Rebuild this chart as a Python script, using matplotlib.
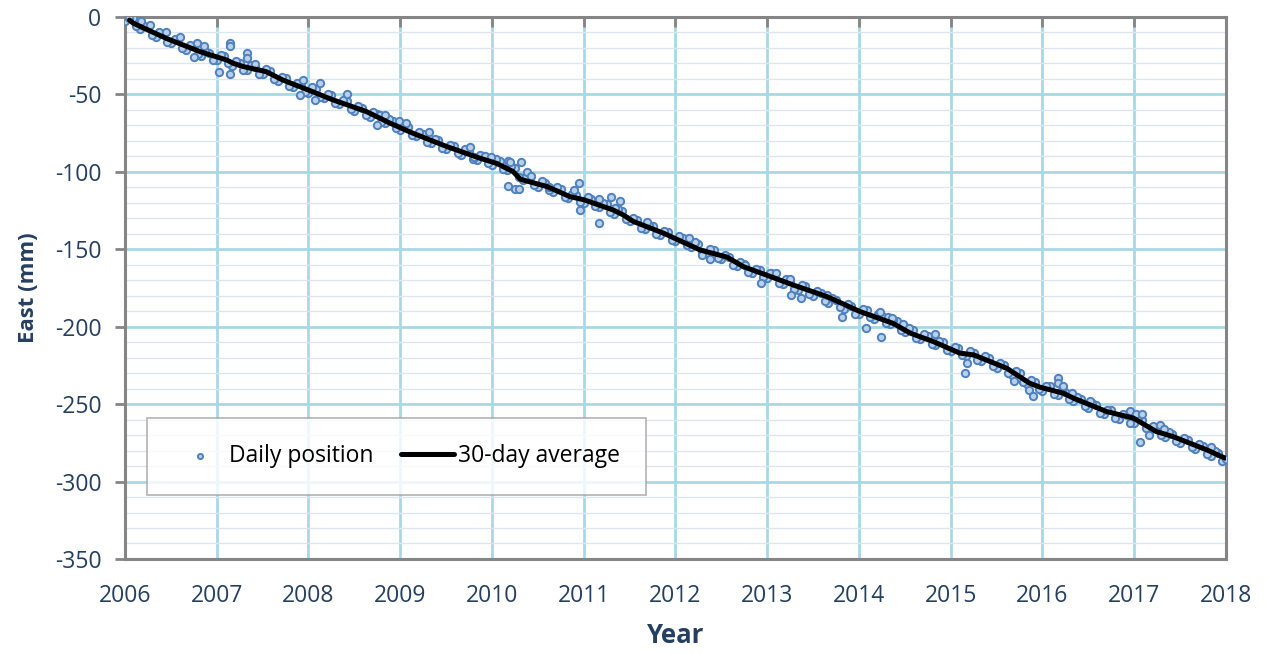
import numpy as np
import matplotlib
matplotlib.use("Agg")
import matplotlib.pyplot as plt
from matplotlib.ticker import MultipleLocator

plt.rcParams['font.family'] = ['Open Sans', 'DejaVu Sans']
plt.rcParams['axes.unicode_minus'] = False

# 30-day average (decimal year, east offset in mm)
avg_year = [2006.05, 2006.09, 2006.45, 2006.82, 2007.11, 2007.18, 2007.29, 2007.54,
            2007.72, 2007.98, 2008.27, 2008.63, 2008.89, 2009.14, 2009.51, 2009.87,
            2010.05, 2010.23, 2010.31, 2010.60, 2010.85, 2011.00, 2011.32, 2011.43,
            2011.54, 2011.87, 2012.27, 2012.56, 2012.74, 2012.99, 2013.28, 2013.65,
            2014.01, 2014.37, 2014.56, 2014.81, 2015.10, 2015.25, 2015.61, 2015.86,
            2015.97, 2016.23, 2016.34, 2016.70, 2016.99, 2017.24, 2017.42, 2017.79,
            2017.99]
avg_east = [-2.0, -4.0, -13.8, -22.4, -27.8, -29.9, -32.0, -35.3,
            -40.7, -46.7, -53.6, -61.0, -68.6, -75.1, -83.7, -91.2,
            -94.5, -99.8, -104.8, -109.5, -116.0, -118.0, -124.6, -127.8,
            -132.0, -139.6, -150.5, -155.0, -161.2, -166.6, -173.0, -180.5,
            -190.2, -197.8, -204.2, -209.6, -217.1, -218.2, -226.8, -236.5,
            -239.0, -243.0, -246.2, -254.8, -259.0, -267.7, -270.9, -279.5,
            -284.9]

# daily positions, mid-month readings (mm)
mid_2006 = [-0.5, -5.5, -5.5, -11.5, -10, -16, -14, -20, -18, -24, -22, -27.5]
mid_2007 = [-24.5, -30, -28.5, -34, -31, -36.5, -33.5, -40, -38.5, -44.5, -42.5, -48.5]
mid_2008 = [-45.5, -51.5, -49.5, -55.5, -53.5, -59.5, -57.5, -63.5, -61.5, -67.5, -66, -72]
mid_2009 = [-70, -76, -74.5, -80.5, -78.5, -84.5, -82.5, -88, -85.5, -91.5, -89, -94.5]
mid_2010 = [-92, -98, -96, -103.5, -103, -108.5, -106, -112, -110, -116, -114, -119.5]
mid_2011 = [-116.5, -122, -120, -126, -124, -130.5, -130, -136, -134, -140, -138, -144]
mid_2012 = [-141.5, -147.5, -145.5, -151.5, -149.5, -155.5, -153.5, -160, -158.5, -164.5, -162.5, -168]
mid_2013 = [-165.5, -171.5, -169.5, -175.5, -173, -179, -177, -183.5, -181.5, -187.5, -185.5, -191.5]
mid_2014 = [-188.5, -194, -192, -197.5, -195.5, -202, -201, -207, -205, -211, -209, -215]
mid_2015 = [-213, -218.5, -216, -221.5, -219, -225.5, -223.5, -230, -228.5, -235.5, -234.5, -240.5]
mid_2016 = [-238, -243.5, -241, -247, -245.5, -251.5, -249.5, -255.5, -253.5, -259, -256.5, -262]
mid_2017 = [-259, -265.5, -264, -270, -268, -274, -272, -278, -276, -282.5, -280.5, -286.5]

# daily positions, start-of-month readings (mm)
start_2006 = [-2.5, -0.5, -7.5, -6.5, -13, -11, -17, -15, -21, -19, -25, -23]
start_2007 = [-28, -25.5, -31.5, -29.5, -34.5, -32, -37, -35, -41.5, -39.5, -45.5, -43.5]
start_2008 = [-49, -46.5, -52.5, -50.5, -56.5, -54.5, -60.5, -58.5, -64.5, -62.5, -68.5, -67]
start_2009 = [-73, -71, -77, -75.5, -81.5, -79.5, -85.5, -83.5, -89, -86.5, -92.5, -90]
start_2010 = [-95.5, -93, -99, -97.5, -105, -104, -109.5, -107, -113, -111, -117, -115]
start_2011 = [-120, -117.5, -123, -121, -127, -125, -132, -131, -137, -135, -141, -139]
start_2012 = [-144.5, -142.5, -148.5, -146.5, -152.5, -150.5, -156.5, -155, -161, -159.5, -165.5, -163.5]
start_2013 = [-168.8, -166.5, -172.5, -170.5, -176.5, -174, -180, -178, -184.5, -182.5, -188.5, -186.5]
start_2014 = [-192, -189.5, -195, -193, -198.5, -196.5, -203.5, -202, -208, -206, -212, -210]
start_2015 = [-216, -214, -219, -217, -222, -220, -226.5, -224.5, -231, -230, -237, -235.5]
start_2016 = [-241.5, -238.5, -244, -242, -248, -246.5, -252.5, -250.5, -256.5, -254, -259.5, -257]
start_2017 = [-262, -260, -266.5, -265, -271, -269, -275, -273, -279, -277, -283.5, -281.5]

# scattered days away from the average
extra_year = [2006.04, 2006.18, 2006.27, 2006.45, 2006.60, 2006.75, 2006.79, 2006.86,
              2007.02, 2007.15, 2007.15, 2007.15, 2007.33, 2007.33, 2007.42, 2007.91,
              2007.94, 2008.07, 2008.13, 2008.42, 2008.78, 2008.83, 2008.75, 2008.99,
              2009.06, 2009.31, 2009.76, 2009.80, 2009.92, 2009.99, 2010.18, 2010.20,
              2010.32, 2010.18, 2010.25, 2010.30, 2010.38, 2010.43, 2010.62, 2010.95,
              2010.89, 2010.96, 2011.17, 2011.17, 2011.30, 2011.40, 2011.34, 2011.69,
              2012.15, 2012.29, 2012.38, 2012.76, 2012.93, 2013.03, 2013.10, 2013.25,
              2013.26, 2013.37, 2013.65, 2013.81, 2014.08, 2014.23, 2014.24, 2014.32,
              2014.36, 2014.48, 2014.83, 2015.16, 2015.18, 2015.69, 2015.85, 2015.90,
              2016.17, 2016.17, 2016.22, 2016.32, 2016.52, 2016.95, 2017.02, 2017.09,
              2017.06, 2017.16, 2017.28, 2017.32, 2017.84, 2018.00]
extra_east = [0.0, -2.4, -5.2, -9.5, -12.7, -25.6, -17.0, -18.7,
              -35.3, -16.6, -18.7, -36.8, -23.4, -26.7, -30.5, -50.4,
              -40.7, -53.6, -42.4, -49.9, -63.3, -63.3, -69.7, -66.9,
              -68.6, -74.0, -84.1, -90.2, -89.7, -90.2, -92.8, -93.4,
              -93.8, -109.1, -111.2, -111.2, -99.9, -102.6, -109.5, -107.0,
              -111.7, -124.6, -117.7, -133.2, -116.0, -118.6, -123.5, -132.1,
              -142.9, -153.6, -156.5, -160.1, -171.9, -165.0, -165.0, -169.3,
              -179.5, -181.2, -179.5, -193.5, -201.0, -190.2, -206.8, -193.5,
              -194.5, -198.4, -204.9, -230.0, -223.6, -234.8, -240.8, -244.7,
              -233.3, -236.1, -238.2, -242.5, -247.7, -254.4, -256.3, -256.3,
              -274.2, -269.9, -263.8, -266.2, -277.8, -285.5]

mid = (mid_2006 + mid_2007 + mid_2008 + mid_2009 + mid_2010 + mid_2011 +
       mid_2012 + mid_2013 + mid_2014 + mid_2015 + mid_2016 + mid_2017)
start = (start_2006 + start_2007 + start_2008 + start_2009 + start_2010 + start_2011 +
         start_2012 + start_2013 + start_2014 + start_2015 + start_2016 + start_2017)
mid_x = 2006 + (np.arange(len(mid)) + 0.5) / 12
start_x = 2006 + np.arange(len(start)) / 12
day_x = np.concatenate([start_x, mid_x, extra_year])
day_y = np.concatenate([start, mid, extra_east])

navy = '#243F60'
grey = '#858585'

fig = plt.figure(figsize=(12.66, 6.54), dpi=100)
ax = fig.add_axes([0.0987, 0.1453, 0.8697, 0.8287])

ax.scatter(day_x, day_y, s=28, facecolor='#B9D0EA', edgecolor='#4F81BD',
           linewidth=1.4, zorder=3, label='Daily position')
ax.plot(avg_year, avg_east, color='black', lw=3.6, zorder=4,
        solid_capstyle='round', label='30-day average')

ax.set_xlim(2006, 2018)
ax.set_ylim(-350, 0)
ax.set_xticks(range(2006, 2019))
ax.yaxis.set_major_locator(MultipleLocator(50))
ax.yaxis.set_minor_locator(MultipleLocator(10))

ax.grid(which='major', color='#A8D8E6', lw=2.0, zorder=1)
ax.grid(which='minor', axis='y', color='#DCE6F1', lw=1.0, zorder=0)
ax.set_axisbelow(True)

for side in ['left', 'bottom', 'top', 'right']:
    ax.spines[side].set_color(grey)
    ax.spines[side].set_linewidth(2.2)

# x axis sits on the zero line: ticks hang from the top, labels stay below
ax.tick_params(axis='x', which='major', bottom=False, top=True, direction='in',
               length=7, width=2, color=grey, labelbottom=True, labeltop=False,
               labelsize=16.5, labelcolor=navy, pad=18)
ax.tick_params(axis='y', which='major', direction='out', length=7, width=2,
               color=grey, labelsize=16.5, labelcolor=navy, pad=10)
ax.tick_params(which='minor', length=0)

ax.set_xlabel('Year', fontsize=18.5, fontweight='bold', color=navy, va='center')
ax.set_ylabel('East (mm)', fontsize=16, fontweight='bold', color=navy, va='center')
ax.xaxis.set_label_coords(0.5, -0.142)
ax.yaxis.set_label_coords(-0.088, 0.5)

leg = ax.legend(loc='upper left', bbox_to_anchor=(0.02, 0.260), ncol=2,
                frameon=True, fancybox=False, fontsize=16.5,
                markerscale=0.7, handlelength=2.3, handletextpad=0.15,
                columnspacing=1.2, borderpad=1.15, borderaxespad=0)
leg.get_frame().set_edgecolor('#A0A0A0')
leg.get_frame().set_linewidth(1.2)

fig.savefig('out.png', dpi=100)
